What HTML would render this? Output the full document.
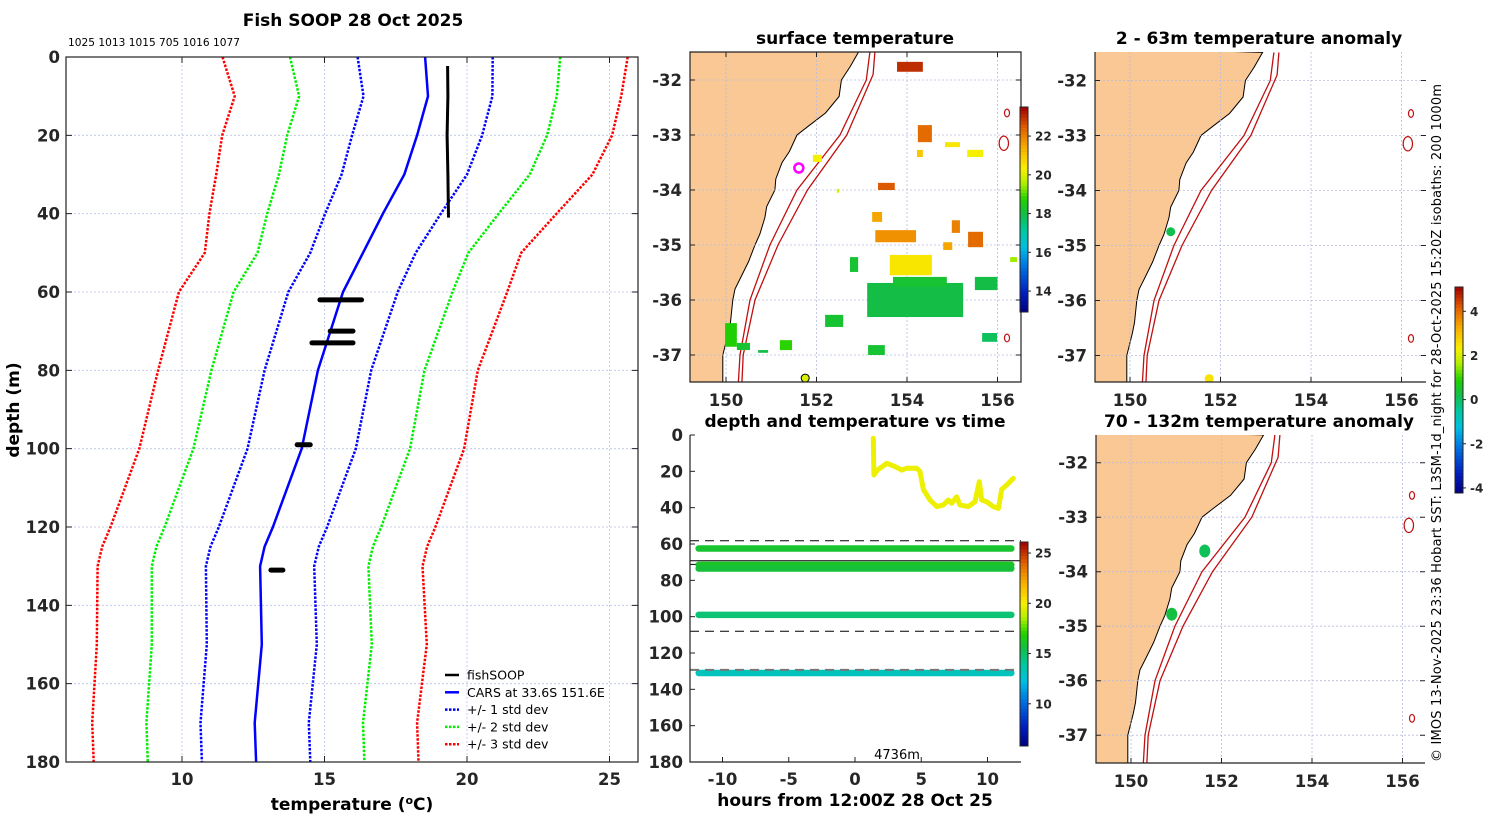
<!DOCTYPE html>
<html><head><meta charset="utf-8"><title>Fish SOOP 28 Oct 2025</title>
<style>
html,body{margin:0;padding:0;background:#fff;}
svg{display:block;font-family:"DejaVu Sans","Liberation Sans",sans-serif;}
.tk{font-weight:bold;font-size:16.5px;fill:#262626;}
.ttl{font-weight:bold;font-size:17px;fill:#000;}
</style></head>
<body>
<svg id="fig" width="1500" height="820" viewBox="0 0 1500 820" xmlns="http://www.w3.org/2000/svg">
<defs>
<clipPath id="clipProf"><rect x="66" y="57" width="572" height="705"/></clipPath>
<clipPath id="clipM1"><rect x="690" y="52" width="331" height="330"/></clipPath>
<clipPath id="clipM2"><rect x="1095" y="52" width="331" height="330"/></clipPath>
<clipPath id="clipM3"><rect x="1096" y="435" width="329" height="328"/></clipPath>
<clipPath id="clipTS"><rect x="690" y="435" width="331" height="327"/></clipPath>
</defs>
<text class="ttl" x="353" y="26" text-anchor="middle">Fish SOOP 28 Oct 2025</text>
<text x="68" y="46" font-size="10.5" textLength="172" lengthAdjust="spacingAndGlyphs">1025 1013 1015 705 1016 1077</text>
<text class="ttl" x="19" y="410" text-anchor="middle" transform="rotate(-90 19 410)">depth (m)</text>
<text class="ttl" x="352" y="810" text-anchor="middle">temperature (<tspan dy="-6" font-size="11">o</tspan><tspan dy="6">C)</tspan></text>
<text class="ttl" x="855" y="44" text-anchor="middle">surface temperature</text>
<text class="ttl" x="855" y="427" text-anchor="middle">depth and temperature vs time</text>
<text class="ttl" x="855" y="806" text-anchor="middle">hours from 12:00Z 28 Oct 25</text>
<text x="897" y="759" font-size="13" text-anchor="middle">4736m</text>
<text class="ttl" x="1259" y="44" text-anchor="middle">2 - 63m temperature anomaly</text>
<text class="ttl" x="1259" y="427" text-anchor="middle">70 - 132m temperature anomaly</text>
<text x="1441" y="762" font-size="13" textLength="678" transform="rotate(-90 1441 762)">© IMOS 13-Nov-2025 23:36 Hobart SST: L3SM-1d_night for 28-Oct-2025 15:20Z isobaths: 200  1000m</text>
<g id="gProf"></g>
<g id="gM1"></g>
<g id="gM2"></g>
<g id="gM3"></g>
<g id="gTS"></g>
<g id="gLeg"></g>
</svg>
<script>
// ---------- data ----------
const profDepth=[0,10,20,30,40,50,60,80,100,120,125,130,150,170,180];
const carsMean=[18.53,18.63,18.25,17.8,17.05,16.35,15.65,14.77,14.2,13.19,12.9,12.74,12.8,12.55,12.6];
const carsStd=[2.37,2.26,2.28,2.2,2.03,1.85,1.92,1.87,1.9,1.9,1.9,1.9,1.93,1.9,1.9];
const fishLineDepth=[2.3,10,20,30,41];
const fishLineTemp=[19.32,19.33,19.3,19.33,19.35];
const fishBlobDepth=[62,70,73,99,131];
const fishBlobTmin=[14.84,15.2,14.56,14.04,13.12];
const fishBlobTmax=[16.3,16.0,16.0,14.5,13.54];
const profXTicks=[10,15,20,25];
const profYTicks=[0,20,40,60,80,100,120,140,160,180];

const coastLon=[152.93,152.75,152.55,152.5,152.2,151.8,151.57,151.4,151.24,151.1,151.08,150.9,150.86,150.75,150.64,150.5,150.38,150.2,150.15,150.1,150.05,149.93,149.93];
const coastLat=[-31.49,-31.75,-32.0,-32.3,-32.6,-32.85,-33.0,-33.3,-33.5,-33.8,-34.0,-34.3,-34.5,-34.8,-35.0,-35.3,-35.5,-35.8,-36.0,-36.4,-36.6,-37.0,-37.55];
const iso200Lon=[153.18,153.1,152.52,151.57,150.97,150.53,150.31,150.27];
const iso200Lat=[-31.49,-32.0,-33.0,-34.0,-35.0,-36.0,-37.0,-37.55];
const iso1000Lon=[153.29,153.25,152.67,151.8,151.15,150.64,150.38,150.35];
const iso1000Lat=[-31.49,-31.9,-33.0,-34.0,-35.0,-36.0,-37.0,-37.55];
const mountLon=[156.21,156.14,156.21];
const mountLat=[-32.6,-33.15,-36.69];
const mountR=[0.07,0.13,0.07];
const lonTicks=[150,152,154,156];
const latTicks=[-32,-33,-34,-35,-36,-37];

const sstLon0=[153.12,153.69,155.5,153.62,153.3,154.24,154.22,154.84,155.33,155.35,154.8,154.99,153.23,153.36,153.78,152.74,149.98,150.24,150.71,151.19,155.66,156.28,151.92,152.45,152.19,153.14];
const sstLon1=[155.24,154.88,156.0,154.55,154.2,154.55,154.35,155.17,155.68,155.68,155.0,155.17,153.45,153.73,154.35,152.92,150.24,150.53,150.93,151.46,155.99,156.43,152.12,152.5,152.59,153.51];
const sstLat0=[-35.69,-35.58,-35.58,-35.18,-34.73,-32.82,-33.27,-33.13,-33.27,-34.76,-34.95,-34.55,-34.4,-33.87,-31.67,-35.22,-36.42,-36.78,-36.91,-36.73,-36.6,-35.22,-33.36,-33.98,-36.27,-36.82];
const sstLat1=[-36.31,-35.76,-35.82,-35.55,-34.95,-33.13,-33.4,-33.22,-33.4,-35.04,-35.09,-34.78,-34.58,-34.0,-31.85,-35.49,-36.85,-36.91,-36.96,-36.91,-36.76,-35.31,-33.49,-34.05,-36.49,-37.0];
const sstTemp=[18.0,18.2,18.0,20.5,21.8,22.3,21.0,20.5,20.3,22.3,21.5,22.0,21.5,22.5,23.0,18.2,18.7,18.2,18.0,18.8,17.8,19.5,20.3,20.0,18.2,18.2];
const sstTicks=[14,16,18,20,22];
const sstMin=12.92, sstMax=23.5;

const anomLon1=[150.9,151.75], anomLat1=[-34.75,-37.42], anomVal1=[0.2,2.5];
const anomLon3=[151.63,150.9], anomLat3=[-33.62,-34.78], anomVal3=[0.1,0.3];
const anomTicks=[-4,-2,0,2,4];
const anomMin=-4.23, anomMax=5.1;

const trackTime=[1.38,1.43,1.69,2.4,3.02,3.52,3.9,4.65,4.9,5.16,5.66,6.17,6.67,7.04,7.3,7.67,7.92,8.55,9.06,9.38,9.56,9.94,10.44,10.82,11.07,11.45,11.95];
const trackDepth=[1.8,22,19.3,15.6,17.4,19.3,18.3,18.3,20,30,35.8,39.4,38.5,35.8,37.6,34,38.5,39.4,36.7,25.7,35.8,36.7,39.4,40.4,30,27.5,23.9];
const trackTemp=19.8;
const bandDepth=[62.5,71.5,73.5,99,131];
const bandTemp=[16.0,16.2,15.8,14.7,13.2];
const bandT0=-11.8, bandT1=11.8;
const dashDepth=[58.2,71.2,108];
const solidDepth=[69.2];
const greyDashDepth=[129.3];
const tsXTicks=[-10,-5,0,5,10];
const tsYTicks=[0,20,40,60,80,100,120,140,160,180];
const tsCTicks=[10,15,20,25];
const tsCMin=5.8, tsCMax=26.1;

// ---------- helpers ----------
const NS='http://www.w3.org/2000/svg';
function mk(tag,attrs,parent){const e=document.createElementNS(NS,tag);for(const k in attrs)e.setAttribute(k,attrs[k]);parent.appendChild(e);return e;}
const stops=[[0,[0,0,128]],[0.1,[0,32,192]],[0.22,[0,112,224]],[0.32,[0,192,224]],[0.4,[0,200,160]],[0.48,[20,190,70]],[0.55,[32,208,0]],[0.63,[176,240,0]],[0.7,[248,240,0]],[0.8,[248,176,0]],[0.9,[224,96,0]],[1,[160,0,0]]];
function cmap(f){f=Math.max(0,Math.min(1,f));for(let i=1;i<stops.length;i++){if(f<=stops[i][0]){const a=stops[i-1],b=stops[i];const t=(f-a[0])/(b[0]-a[0]);const c=a[1].map((v,j)=>Math.round(v+(b[1][j]-v)*t));return 'rgb('+c.join(',')+')';}}return 'rgb(160,0,0)';}
function colorbar(g,x,y0,y1,vmin,vmax,ticks,name){
  const n=60,h=(y1-y0)/n;
  for(let i=0;i<n;i++){
    const r=mk('rect',{x:x,y:y1-(i+1)*h,width:8,height:h+0.5,fill:cmap((i+0.5)/n)},g);
    
    
  }
  const b=mk('rect',{x:x,y:y0,width:8,height:y1-y0,fill:'none',stroke:'#222','stroke-width':1},g);
  
  
  ticks.forEach(v=>{
    const yy=y1-(v-vmin)/(vmax-vmin)*(y1-y0);
    const l=mk('line',{x1:x+8,x2:x+11,y1:yy,y2:yy,stroke:'#222'},g);
    
    
    const t=mk('text',{x:x+15,y:yy+4.5,'font-size':12,'font-weight':'bold',fill:'#262626'},g);
    t.textContent=v;
    
    
  });
}

// ---------- profile panel ----------
(function(){
  const g=document.getElementById('gProf');
  const X=t=>182+(t-10)*28.5, Y=d=>57+d*705/180;
  profXTicks.forEach(v=>{
    const l=mk('line',{x1:X(v),x2:X(v),y1:57,y2:762,stroke:'#b8c4e8','stroke-width':0.8,'stroke-dasharray':'2,2'},g);
    
    
    const t=mk('text',{x:X(v),y:785,'text-anchor':'middle',class:'tk'},g);
    t.textContent=v;
    
    
    const k=mk('path',{d:'M'+X(v)+',762v-6M'+X(v)+',57v6',stroke:'#222'},g);
    
    
  });
  profYTicks.forEach(v=>{
    const l=mk('line',{x1:66,x2:638,y1:Y(v),y2:Y(v),stroke:'#b8c4e8','stroke-width':0.8,'stroke-dasharray':'2,2'},g);
    
    
    const t=mk('text',{x:60,y:Y(v)+6,'text-anchor':'end',class:'tk'},g);
    t.textContent=v;
    
    
    const k=mk('path',{d:'M66,'+Y(v)+'h6M638,'+Y(v)+'h-6',stroke:'#222'},g);
    
    
  });
  const pc=mk('g',{'clip-path':'url(#clipProf)'},g);
  
  
  const cols={1:'#0000ff',2:'#00ee00',3:'#ff0000'};
  [3,2,1].forEach(k=>{
    [-1,1].forEach(s=>{
      const d=profDepth.map((z,i)=>(i?'L':'M')+X(carsMean[i]+s*k*carsStd[i]).toFixed(1)+','+Y(z).toFixed(1)).join('');
      const p=mk('path',{d:d,fill:'none',stroke:cols[k],'stroke-width':2.5,'stroke-dasharray':'2.5,1.5'},pc);
      
      
    });
  });
  const dm=profDepth.map((z,i)=>(i?'L':'M')+X(carsMean[i]).toFixed(1)+','+Y(z).toFixed(1)).join('');
  const pm=mk('path',{d:dm,fill:'none',stroke:'#0000ff','stroke-width':2.5},pc);
  
  
  const df=fishLineDepth.map((z,i)=>(i?'L':'M')+X(fishLineTemp[i]).toFixed(1)+','+Y(z).toFixed(1)).join('');
  const pf=mk('path',{d:df,fill:'none',stroke:'#000','stroke-width':3},pc);
  
  
  fishBlobDepth.forEach((z,i)=>{
    const b=mk('line',{x1:X(fishBlobTmin[i]),x2:X(fishBlobTmax[i]),y1:Y(z),y2:Y(z),stroke:'#000','stroke-width':5,'stroke-linecap':'round'},pc);
    
    
  });
  const fr=mk('rect',{x:66,y:57,width:572,height:705,fill:'none',stroke:'#222','stroke-width':1.2},g);
  
  
  const lg=document.getElementById('gLeg');
  const items=[['fishSOOP','#000',''],['CARS at 33.6S 151.6E','#0000ff',''],['+/- 1 std dev','#0000ff','2.5,1.5'],['+/- 2 std dev','#00ee00','2.5,1.5'],['+/- 3 std dev','#ff0000','2.5,1.5']];
  items.forEach((it,i)=>{
    const yy=675+i*17.3;
    const l=mk('line',{x1:445,x2:459,y1:yy,y2:yy,stroke:it[1],'stroke-width':2.5,'stroke-dasharray':it[2]||'none'},lg);
    
    
    const t=mk('text',{x:467,y:yy+4.5,'font-size':12.5,fill:'#000'},lg);
    t.textContent=it[0];
    
    
  });
})();

// ---------- maps ----------
function drawMap(gid,clip,x0,y0,w,h,lonX0,latY0,latS,full,tickLabels){
  const g=document.getElementById(gid);
  const X=lon=>lonX0+(lon-150)*45.25, Y=lat=>latY0+(-32-lat)*latS;
  const c=mk('g',{'clip-path':'url(#'+clip+')'},g);
  
  
  let d='M'+(x0-5)+','+(y0-5);
  coastLon.forEach((lo,i)=>{d+='L'+X(lo).toFixed(1)+','+Y(coastLat[i]).toFixed(1);});
  d+='L'+(x0-5)+','+(y0+h+5)+'Z';
  const land=mk('path',{d:d,fill:'#f9c894',stroke:'#000','stroke-width':1},c);
  
  
  lonTicks.forEach(v=>{
    const l=mk('line',{x1:X(v),x2:X(v),y1:y0,y2:y0+h,stroke:'#b8bce0','stroke-width':0.8,'stroke-dasharray':'2,2'},c);
    
    
  });
  latTicks.forEach(v=>{
    const l=mk('line',{x1:x0,x2:x0+w,y1:Y(v),y2:Y(v),stroke:'#b8bce0','stroke-width':0.8,'stroke-dasharray':'2,2'},c);
    
    
  });
  [[iso200Lon,iso200Lat,'isobath-200m'],[iso1000Lon,iso1000Lat,'isobath-1000m']].forEach(a=>{
    const dd=a[0].map((lo,i)=>(i?'L':'M')+X(lo).toFixed(1)+','+Y(a[1][i]).toFixed(1)).join('');
    const p=mk('path',{d:dd,fill:'none',stroke:'#c01010','stroke-width':1.3},c);
    
    
  });
  mountLon.forEach((lo,i)=>{
    const e=mk('ellipse',{cx:X(lo),cy:Y(mountLat[i]),rx:mountR[i]*45*0.8,ry:mountR[i]*55,fill:'none',stroke:'#c01010','stroke-width':1.2},c);
    
    
  });
  const ax=mk('path',{d:full?('M'+x0+','+y0+'h'+w+'v'+h+'h'+(-w)+'Z'):('M'+x0+','+y0+'V'+(y0+h)+'H'+(x0+w)),fill:'none',stroke:'#222','stroke-width':1.2},g);
  
  
  lonTicks.forEach(v=>{
    const k=mk('path',{d:'M'+X(v)+','+(y0+h)+'v-5'+(full?'M'+X(v)+','+y0+'v5':''),stroke:'#222'},g);
    
    
    if(tickLabels){
      const t=mk('text',{x:X(v),y:y0+h+24,'text-anchor':'middle',class:'tk'},g);
      t.textContent=v;
      
      
    }
  });
  latTicks.forEach(v=>{
    const k=mk('path',{d:'M'+x0+','+Y(v)+'h5M'+(x0+w)+','+Y(v)+'h-5',stroke:'#222'},g);
    
    
    const t=mk('text',{x:x0-8,y:Y(v)+6,'text-anchor':'end',class:'tk'},g);
    t.textContent=v;
    
    
  });
  return {c:c,X:X,Y:Y};
}
(function(){
  const m=drawMap('gM1','clipM1',690,52,331,330,726,80,55,true,true);
  sstLon0.forEach((lo,i)=>{
    const x1=m.X(lo),x2=m.X(sstLon1[i]),y1=m.Y(sstLat0[i]),y2=m.Y(sstLat1[i]);
    const r=mk('rect',{x:Math.min(x1,x2),y:Math.min(y1,y2),width:Math.abs(x2-x1),height:Math.abs(y2-y1),fill:cmap((sstTemp[i]-sstMin)/(sstMax-sstMin))},m.c);
    
    
  });
  const ring=mk('circle',{cx:m.X(151.61),cy:m.Y(-33.6),r:4.5,fill:'none',stroke:'#ff00ff','stroke-width':2.5},m.c);
  
  
  const dot=mk('circle',{cx:m.X(151.75),cy:m.Y(-37.42),r:4,fill:'#d8f000',stroke:'#000','stroke-width':1},m.c);
  
  
  colorbar(document.getElementById('gM1'),1020,107,312,sstMin,sstMax,sstTicks,'sst-colorbar');
})();
(function(){
  const m=drawMap('gM2','clipM2',1095,52,331,330,1130,80.5,55,false,true);
  anomLon1.forEach((lo,i)=>{
    const c=mk('circle',{cx:m.X(lo),cy:m.Y(anomLat1[i]),r:4.5,fill:cmap((anomVal1[i]-anomMin)/(anomMax-anomMin))},m.c);
    
    
  });
  colorbar(document.getElementById('gM2'),1455,287,493,anomMin,anomMax,anomTicks,'anomaly-colorbar');
})();
(function(){
  const m=drawMap('gM3','clipM3',1096,435,329,328,1131,462.7,54.5,false,true);
  anomLon3.forEach((lo,i)=>{
    const c=mk('ellipse',{cx:m.X(lo),cy:m.Y(anomLat3[i]),rx:5.5,ry:6.5,fill:cmap((anomVal3[i]-anomMin)/(anomMax-anomMin))},m.c);
    
    
  });
})();

// ---------- time series ----------
(function(){
  const g=document.getElementById('gTS');
  const X=t=>855+t*13.25, Y=d=>435+d*327/180;
  const c=mk('g',{'clip-path':'url(#clipTS)'},g);
  
  
  dashDepth.forEach(d=>{
    const l=mk('line',{x1:690,x2:1021,y1:Y(d),y2:Y(d),stroke:'#000','stroke-width':1,'stroke-dasharray':'9,6'},c);
    
    
  });
  solidDepth.forEach(d=>{
    const l=mk('line',{x1:690,x2:1021,y1:Y(d),y2:Y(d),stroke:'#000','stroke-width':1},c);
    
    
  });
  bandDepth.forEach((d,i)=>{
    const l=mk('line',{x1:X(bandT0),x2:X(bandT1),y1:Y(d),y2:Y(d),stroke:cmap((bandTemp[i]-tsCMin)/(tsCMax-tsCMin)),'stroke-width':6.5,'stroke-linecap':'round'},c);
    
    
  });
  greyDashDepth.forEach(d=>{
    const l=mk('line',{x1:690,x2:1021,y1:Y(d),y2:Y(d),stroke:'#777','stroke-width':2,'stroke-dasharray':'9,6'},c);
    
    
  });
  const dt=trackTime.map((t,i)=>(i?'L':'M')+X(t).toFixed(1)+','+Y(trackDepth[i]).toFixed(1)).join('');
  const p=mk('path',{d:dt,fill:'none',stroke:cmap((trackTemp-tsCMin)/(tsCMax-tsCMin)),'stroke-width':5,'stroke-linejoin':'round','stroke-linecap':'round'},c);
  
  
  const ax=mk('path',{d:'M690,435V762H1021',fill:'none',stroke:'#222','stroke-width':1.2},g);
  
  
  tsXTicks.forEach(v=>{
    const k=mk('line',{x1:X(v),x2:X(v),y1:762,y2:757,stroke:'#222'},g);
    
    
    const t=mk('text',{x:X(v),y:785,'text-anchor':'middle',class:'tk'},g);
    t.textContent=v;
    
    
  });
  tsYTicks.forEach(v=>{
    const k=mk('line',{x1:690,x2:695,y1:Y(v),y2:Y(v),stroke:'#222'},g);
    
    
    const t=mk('text',{x:683,y:Y(v)+6,'text-anchor':'end',class:'tk'},g);
    t.textContent=v;
    
    
  });
  colorbar(g,1020,542,746,tsCMin,tsCMax,tsCTicks,'timeseries-colorbar');
})();
</script>
</body></html>
